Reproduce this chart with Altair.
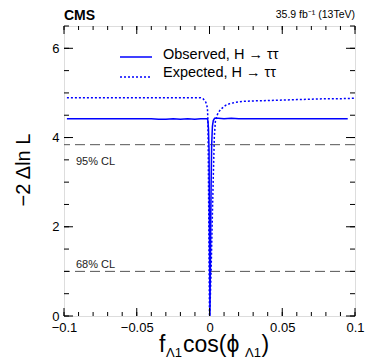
import altair as alt
import pandas as pd

# ---------------- data ----------------
obs_x = [-0.098, -0.09, -0.08, -0.07, -0.06, -0.05, -0.04, -0.035, -0.03, -0.025, -0.02, -0.015,
         -0.01, -0.006, -0.003, -0.0015, -0.0011, -0.0007, -0.0003, 0.0, 0.0003, 0.0007, 0.0011,
         0.0015, 0.002, 0.0026, 0.0035, 0.006, 0.01, 0.015, 0.02, 0.03, 0.04, 0.05, 0.06, 0.07,
         0.08, 0.09, 0.095]
obs_y = [4.42, 4.42, 4.42, 4.42, 4.42, 4.42, 4.42, 4.41, 4.41, 4.42, 4.41, 4.42,
         4.41, 4.42, 4.42, 4.42, 4.38, 4.2, 3.7, 1.8, 0.0, 1.4, 2.9,
         3.85, 4.25, 4.38, 4.43, 4.43, 4.42, 4.43, 4.42, 4.42, 4.42, 4.42, 4.42, 4.42,
         4.42, 4.42, 4.42]

exp_x = [-0.098, -0.08, -0.06, -0.04, -0.02, -0.01, -0.006, -0.0045, -0.003, -0.002, -0.0014,
         -0.0011, -0.0008, -0.0005, -0.0002, 0.0, 0.0003, 0.0006, 0.0011, 0.0018, 0.0025, 0.0033,
         0.004, 0.005, 0.006, 0.008, 0.011, 0.014, 0.018, 0.023, 0.03, 0.04, 0.05, 0.06, 0.07,
         0.08, 0.09, 0.1]
exp_y = [4.89, 4.89, 4.89, 4.89, 4.89, 4.89, 4.89, 4.87, 4.82, 4.75, 4.65,
         4.4, 3.5, 2.2, 0.7, 0.0, 0.15, 0.45, 1.0, 2.0, 3.0, 4.0,
         4.35, 4.48, 4.56, 4.64, 4.72, 4.76, 4.79, 4.81, 4.82, 4.83, 4.84, 4.85, 4.86,
         4.87, 4.87, 4.88]

cl_values = [3.84, 1.0]
cl_labels = ["95% CL", "68% CL"]
cl_label_y = [3.45, 1.14]

x_major = [-0.1, -0.05, 0.0, 0.05, 0.1]
x_minor = [round(-0.1 + 0.01 * i, 3) for i in range(21)]
y_major = [0, 2, 4, 6]
y_minor = [0.5 * i for i in range(14)]

legend_labels = ["Observed, H \u2192 \u03c4\u03c4", "Expected, H \u2192 \u03c4\u03c4"]

# ---------------- layout ----------------
W, H = 291, 290
BLUE = "#0000ff"
FONT = "Liberation Sans"

xs = alt.Scale(domain=[-0.1, 0.1], nice=False, zero=False)
ys = alt.Scale(domain=[0, 6.5], nice=False)

obs_df = pd.DataFrame({"x": obs_x, "y": obs_y})
exp_df = pd.DataFrame({"x": exp_x, "y": exp_y})

xaxis = alt.Axis(values=x_major, format="~g", ticks=False, domain=False, grid=False,
                 labelFontSize=13, labelFont=FONT, labelColor="black", labelFlush=False,
                 labelOverlap=False, labelPadding=5, title=None)
yaxis = alt.Axis(values=y_major, ticks=False, domain=False, grid=False,
                 labelFontSize=13, labelFont=FONT, labelColor="black", labelFlush=False,
                 labelOverlap=False, labelPadding=5, title=None)

obs = alt.Chart(obs_df).mark_line(color=BLUE, strokeWidth=1.5).encode(
    x=alt.X("x:Q", scale=xs, axis=xaxis),
    y=alt.Y("y:Q", scale=ys, axis=yaxis),
)
exp = alt.Chart(exp_df).mark_line(color=BLUE, strokeWidth=1.5, strokeDash=[2, 2]).encode(
    x=alt.X("x:Q", scale=xs), y=alt.Y("y:Q", scale=ys)
)

cl_df = pd.DataFrame({"y": cl_values, "label": cl_labels, "ly": cl_label_y})
cl_lines = alt.Chart(cl_df).mark_rule(color="#555555", strokeWidth=1, strokeDash=[10, 5]).encode(
    y=alt.Y("y:Q", scale=ys)
)
cl_text = alt.Chart(cl_df).mark_text(align="left", baseline="middle", fontSize=11, font=FONT,
                                     color="#222222").encode(
    x=alt.value(12), y=alt.Y("ly:Q", scale=ys), text="label:N"
)

def ticks_x(vals, length, top):
    d = pd.DataFrame({"v": vals})
    if top:
        yy, yy2 = 0, length
    else:
        yy, yy2 = H, H - length
    return alt.Chart(d).mark_rule(color="black", strokeWidth=1).encode(
        x=alt.X("v:Q", scale=xs), y=alt.value(yy), y2=alt.value(yy2)
    )

def ticks_y(vals, length, right):
    d = pd.DataFrame({"v": vals})
    if right:
        xx, xx2 = W, W - length
    else:
        xx, xx2 = 0, length
    return alt.Chart(d).mark_rule(color="black", strokeWidth=1).encode(
        y=alt.Y("v:Q", scale=ys), x=alt.value(xx), x2=alt.value(xx2)
    )

tick_layers = [
    ticks_x(x_minor, 4, False), ticks_x(x_major, 8, False),
    ticks_x(x_minor, 4, True), ticks_x(x_major, 8, True),
    ticks_y(y_minor, 5, False), ticks_y(y_major, 9, False),
    ticks_y(y_minor, 5, True), ticks_y(y_major, 9, True),
]

one = pd.DataFrame({"a": [0]})

def txt(text, x, y, size, align="left", baseline="alphabetic", weight="normal", angle=0):
    kw = dict(text=text, align=align, baseline=baseline, fontSize=size, font=FONT,
              fontWeight=weight, color="black")
    if angle:
        kw["angle"] = angle
    return alt.Chart(one).mark_text(**kw).encode(x=alt.value(x), y=alt.value(y))

# legend
leg_df = pd.DataFrame({"label": legend_labels, "ty": [29, 47]})
leg_solid = alt.Chart(one).mark_rule(color=BLUE, strokeWidth=1.5).encode(
    x=alt.value(56), x2=alt.value(88), y=alt.value(31))
leg_dot = alt.Chart(one).mark_rule(color=BLUE, strokeWidth=1.5, strokeDash=[2, 2]).encode(
    x=alt.value(56), x2=alt.value(88), y=alt.value(51))
leg_text = alt.Chart(leg_df).mark_text(align="left", baseline="middle", fontSize=14.5,
                                       font=FONT, color="black").encode(
    x=alt.value(99), y=alt.Y("ty:Q", scale=None), text="label:N")

annots = [
    txt("CMS", 0, -6.5, 14, weight="bold"),
    txt("35.9 fb\u207b\u00b9 (13TeV)", W, -8, 10.5, align="right"),
    txt("\u22122 \u0394ln L", -40, 144, 20, align="center", baseline="middle", angle=270),
    txt("f", 95, 326, 23),
    txt("\u039b1", 102, 331, 13),
    txt("cos(\u03d5", 119, 326, 23),
    txt("\u039b1", 181, 331, 13),
    txt(")", 197.5, 326, 23),
]

chart = alt.layer(
    cl_lines, cl_text, exp, obs, *tick_layers, leg_solid, leg_dot, leg_text, *annots
).properties(
    width=W, height=H,
    autosize=alt.AutoSizeParams(type="none"),
    padding={"left": 56, "top": 18, "right": 11, "bottom": 47},
).configure_view(stroke="black", strokeWidth=1.5).configure(background="white")

chart.save("out.html", embed_options={"renderer": "svg", "actions": False})
